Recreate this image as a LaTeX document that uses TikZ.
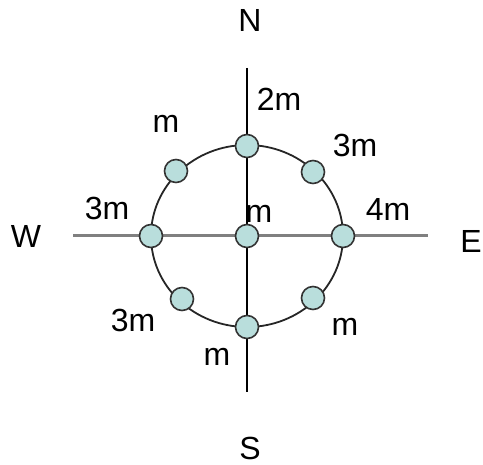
\documentclass[tikz,border=0pt]{standalone}
\usepackage{fontspec}
\setmainfont{Liberation Sans}
\begin{document}
\begin{tikzpicture}[x=1pt,y=-1pt,
  dot/.style={circle,draw=black!80,line width=1.6pt,fill={rgb,255:red,185;green,222;blue,220},minimum size=23pt,inner sep=0pt},
  lbl/.style={font=\fontsize{32}{38}\selectfont,inner sep=0pt}]
\useasboundingbox (0,0) rectangle (483,465);
\coordinate (ntop) at (247,68);
\coordinate (nbot) at (247,392);
\coordinate (wl) at (73,236);
\coordinate (er) at (428,236);
\draw[black!85,line width=1.8pt] (247,236) ellipse [x radius=96, y radius=91];
\draw[line width=2pt] (ntop) -- (nbot);
\draw[black!50,line width=3pt] (wl) -- (er);
\node[dot] (c) at (247,236) {};
\node[dot] (n) at (247,146) {};
\node[dot] (s) at (247,327) {};
\node[dot] (w) at (151,236) {};
\node[dot] (e) at (343,236) {};
\node[dot] (nw) at (176,171) {};
\node[dot] (ne) at (313,172) {};
\node[dot] (sw) at (182,299) {};
\node[dot] (se) at (313,298) {};
\node[lbl] (tN) at (250,20) {N};
\node[lbl] (tS) at (250,448) {S};
\node[lbl] (tW) at (26,236) {W};
\node[lbl] (tE) at (471,241) {E};
\node[lbl] (l2m) at (279,99) {2m};
\node[lbl] (lnw) at (166,124) {m};
\node[lbl] (lne) at (355,145) {3m};
\node[lbl] (lw) at (107,208) {3m};
\node[lbl] (lc) at (259,214) {m};
\node[lbl] (le) at (388,209) {4m};
\node[lbl] (lsw) at (133,320) {3m};
\node[lbl] (lse) at (345,327) {m};
\node[lbl] (ls) at (217,357) {m};
\end{tikzpicture}
\end{document}
